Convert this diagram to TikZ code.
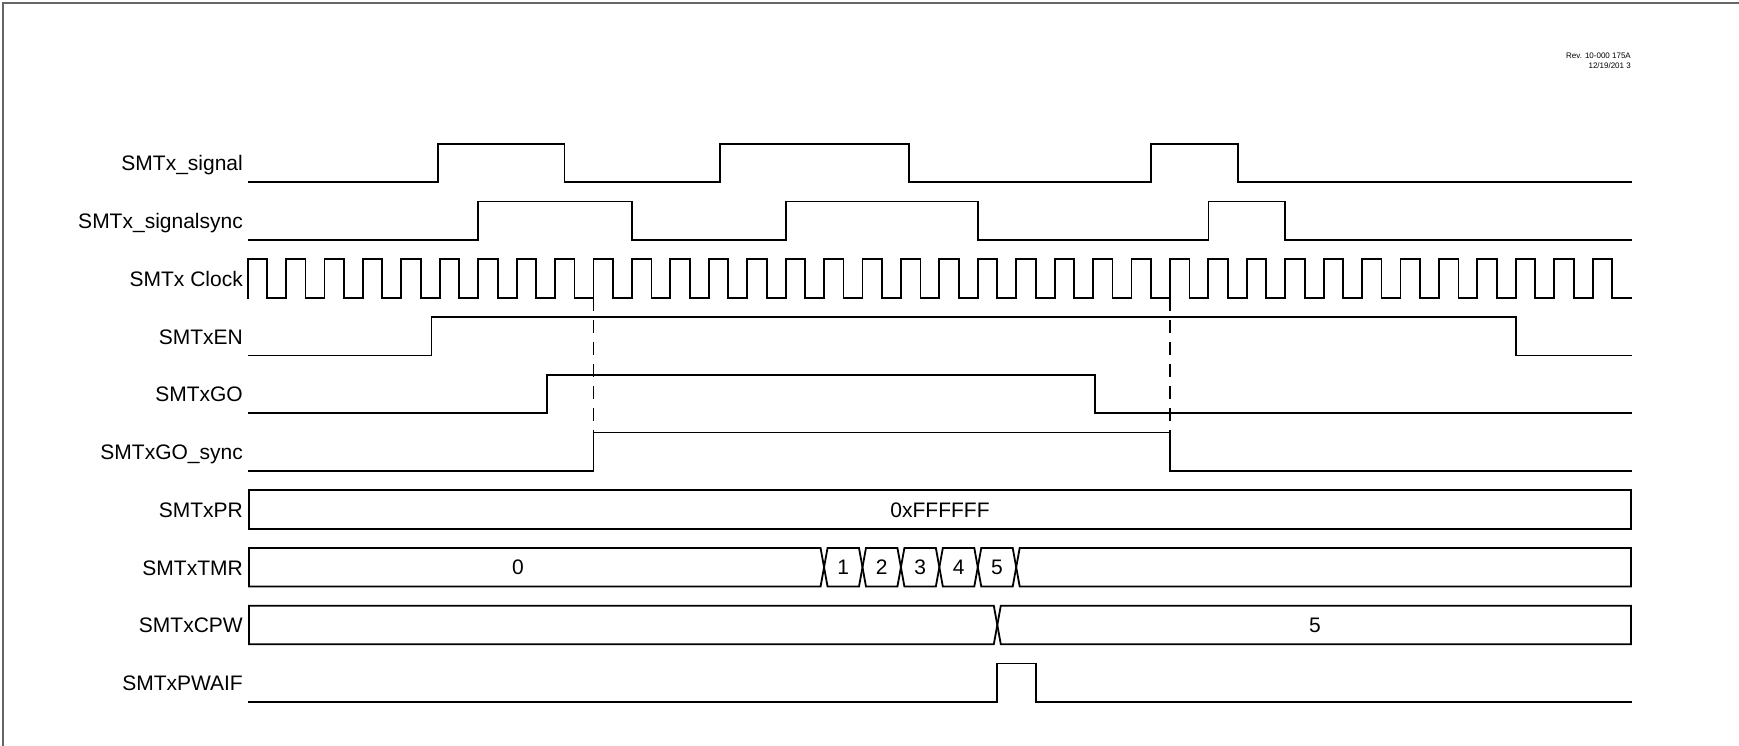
\documentclass[tikz,border=0pt]{standalone}
\usepackage{fontspec}
\setmainfont{Liberation Sans}
\begin{document}
\begin{tikzpicture}[x=1pt,y=-1pt,
  wave/.style={line width=1.8pt, line join=miter, line cap=rect},
  lbl/.style={anchor=base east, font=\fontsize{21}{24}\selectfont, inner sep=0pt},
  val/.style={anchor=base, font=\fontsize{21}{24}\selectfont, inner sep=0pt},
  rev/.style={anchor=base east, font=\fontsize{8}{9}\selectfont, inner sep=0pt},
  guide/.style={line width=1.5pt, dash pattern=on 13pt off 9pt}]
\useasboundingbox (0,0) rectangle (1739,746);
\draw[black!60, line width=2pt] (2.5,746) -- (2.5,3) -- (1739,3);
% revision text
\node[rev] (rev1) at (1631,59) {Rev. 10-000 175A};
\node[rev] (rev2) at (1631,68.5) {12/19/201 3};
% labels
\node[lbl] (l0) at (243,170.7) {SMTx\_signal};
\node[lbl] (l1) at (243,228.5) {SMTx\_signalsync};
\node[lbl] (l2) at (243,286.2) {SMTx Clock};
\node[lbl] (l3) at (243,344) {SMTxEN};
\node[lbl] (l4) at (243,401.7) {SMTxGO};
\node[lbl] (l5) at (243,459.5) {SMTxGO\_sync};
\node[lbl] (l6) at (243,517.2) {SMTxPR};
\node[lbl] (l7) at (243,575) {SMTxTMR};
\node[lbl] (l8) at (243,632.7) {SMTxCPW};
\node[lbl] (l9) at (243,690.5) {SMTxPWAIF};
% SMTx_signal
\draw[wave] (249,182.3) -- (438,182.3) -- (438,143.7) -- (564.5,143.7) -- (564.5,182.3)
  -- (720,182.3) -- (720,143.7) -- (909,143.7) -- (909,182.3) -- (1151,182.3)
  -- (1151,143.7) -- (1237.6,143.7) -- (1237.6,182.3) -- (1631,182.3);
% SMTx_signalsync
\draw[wave] (249,240.05) -- (478.2,240.05) -- (478.2,201.45) -- (631.9,201.45) -- (631.9,240.05)
  -- (785.6,240.05) -- (785.6,201.45) -- (977.8,201.45) -- (977.8,240.05) -- (1208.4,240.05)
  -- (1208.4,201.45) -- (1285.2,201.45) -- (1285.2,240.05) -- (1631,240.05);
% SMTx Clock
\draw[wave] (247.6,297.8)
  \foreach \k in {0,...,35} {
    -- ({247.6+38.43*\k},297.8) -- ({247.6+38.43*\k},259.2)
    -- ({247.6+38.43*\k+19.5},259.2) -- ({247.6+38.43*\k+19.5},297.8)
  } -- (1631,297.8);
% SMTxEN
\draw[wave] (249,355.55) -- (431.4,355.55) -- (431.4,316.95) -- (1516,316.95) -- (1516,355.55) -- (1631,355.55);
% SMTxGO
\draw[wave] (249,413.3) -- (546.7,413.3) -- (546.7,374.7) -- (1094.6,374.7) -- (1094.6,413.3) -- (1631,413.3);
% SMTxGO_sync
\draw[wave] (249,471.05) -- (593.5,471.05) -- (593.5,432.45) -- (1169.9,432.45) -- (1169.9,471.05) -- (1631,471.05);
% guide lines
\coordinate (g1a) at (593.5,297.8);
\coordinate (g1b) at (593.5,432.45);
\coordinate (g2a) at (1169.9,297.8);
\coordinate (g2b) at (1169.9,432.45);
\draw[guide] (g1a) -- (g1b);
\draw[guide] (g2a) -- (g2b);
% SMTxPR
\draw[wave] (249,490.2) rectangle (1631,528.8);
\node[val] (pr) at (940,517) {0xFFFFFF};
% SMTxTMR
\def\t{547.95}\def\b{586.55}\def\m{567.25}
\draw[wave] (820.55,\t) -- (249,\t) -- (249,\b) -- (820.55,\b) -- (824.05,\m) -- cycle;
\foreach \a/\c in {824.05/862.48, 862.48/900.91, 900.91/939.34, 939.34/977.77, 977.77/1016.2}{
  \draw[wave] ({\a+3.5},\t) -- ({\c-3.5},\t) -- (\c,\m) -- ({\c-3.5},\b) -- ({\a+3.5},\b) -- (\a,\m) -- cycle;
}
\draw[wave] (1019.7,\t) -- (1631,\t) -- (1631,\b) -- (1019.7,\b) -- (1016.2,\m) -- cycle;
\node[val] (t0) at (518,574.8) {0};
\node[val] (t1) at (843.3,574.8) {1};
\node[val] (t2) at (881.7,574.8) {2};
\node[val] (t3) at (920.1,574.8) {3};
\node[val] (t4) at (958.6,574.8) {4};
\node[val] (t5) at (997,574.8) {5};
% SMTxCPW
\def\t{605.7}\def\b{644.3}\def\m{625}
\draw[wave] (993.8,\t) -- (249,\t) -- (249,\b) -- (993.8,\b) -- (997.3,\m) -- cycle;
\draw[wave] (1000.8,\t) -- (1631,\t) -- (1631,\b) -- (1000.8,\b) -- (997.3,\m) -- cycle;
\node[val] (c5) at (1315,632.5) {5};
% SMTxPWAIF
\draw[wave] (249,702.05) -- (997.3,702.05) -- (997.3,663.45) -- (1035.7,663.45) -- (1035.7,702.05) -- (1631,702.05);
\end{tikzpicture}
\end{document}
